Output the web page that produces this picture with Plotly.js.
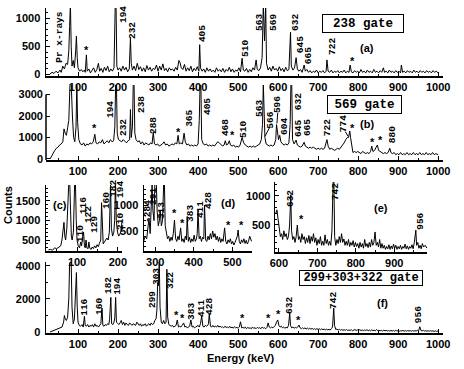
<!DOCTYPE html>
<html><head><meta charset="utf-8">
<script src="https://cdn.plot.ly/plotly-3.0.1.min.js"></script>
<style>html,body{margin:0;padding:0;background:#fff}#chart{width:464px;height:369px}</style>
</head><body><div id="chart"></div>
<script>
// ---- (a) 238 gate : [energy keV, counts]
const gate238 = [[30,10],[35,40],[40,20],[45,60],[50,30],[55,80],[58,40],[62,150],[66,100],[70,200],[74,180],[77,420],[79,850],[81,1250],[83,500],[85,150],[88,250],[91,120],[94,400],[96,680],[98,300],[100,120],[104,60],[108,90],[112,50],[116,80],[118,40],[121,350],[123,60],[127,100],[131,30],[135,70],[139,120],[143,40],[147,90],[151,200],[154,60],[158,110],[162,40],[166,130],[170,70],[174,150],[178,50],[182,100],[186,60],[190,120],[193,1250],[195,1250],[197,150],[200,80],[204,120],[208,60],[212,150],[216,80],[220,130],[224,50],[228,100],[231,650],[233,200],[236,80],[240,150],[244,70],[248,200],[252,90],[256,140],[260,60],[264,120],[268,50],[272,160],[276,80],[280,130],[284,60],[288,110],[292,90],[296,170],[300,60],[304,150],[308,80],[312,190],[316,70],[320,110],[324,50],[328,120],[332,80],[336,100],[340,60],[344,130],[348,80],[352,250],[355,210],[358,120],[362,90],[366,180],[370,60],[374,120],[378,70],[382,150],[386,50],[390,110],[394,70],[398,140],[402,60],[404,530],[406,120],[410,60],[414,100],[418,40],[422,120],[426,60],[430,100],[434,50],[438,80],[442,40],[446,120],[450,60],[454,90],[458,50],[462,110],[466,40],[470,90],[474,60],[478,130],[482,50],[486,100],[490,40],[494,80],[498,60],[502,120],[506,50],[510,290],[513,80],[517,60],[521,110],[525,40],[529,90],[533,50],[537,120],[541,80],[545,260],[548,90],[552,70],[556,120],[560,300],[563,1250],[566,600],[569,1250],[571,200],[575,80],[579,130],[583,60],[587,150],[591,80],[595,110],[599,60],[603,140],[607,70],[611,110],[615,50],[619,130],[623,70],[627,90],[631,750],[633,150],[637,80],[641,120],[645,300],[648,100],[652,60],[656,90],[660,40],[665,170],[668,60],[672,90],[676,40],[680,70],[684,30],[688,60],[692,40],[696,80],[700,30],[704,60],[708,40],[712,70],[716,30],[720,60],[722,260],[725,60],[729,40],[733,80],[737,30],[741,60],[745,40],[749,70],[753,30],[757,60],[761,40],[765,80],[769,30],[773,60],[777,40],[780,170],[783,50],[787,30],[791,70],[795,40],[799,60],[803,30],[807,90],[811,40],[815,60],[819,30],[823,80],[827,40],[831,60],[835,30],[839,90],[843,40],[847,60],[851,30],[855,70],[859,40],[863,120],[866,40],[870,60],[874,30],[878,80],[882,40],[886,60],[890,30],[894,70],[898,40],[902,60],[906,30],[908,170],[911,40],[915,60],[919,30],[923,70],[927,40],[931,60],[935,30],[939,80],[943,40],[947,60],[951,30],[955,70],[959,40],[963,60],[967,30],[971,70],[975,40],[979,60],[983,30],[987,70],[991,40],[995,60],[1000,30]];

// ---- (b) 569 gate
const gate569 = [[30,0],[34,150],[38,300],[42,400],[46,500],[50,550],[54,650],[58,700],[62,800],[65,1400],[68,1200],[71,1100],[74,1450],[77,1800],[80,3500],[83,3500],[86,2000],[89,1000],[92,800],[95,1500],[97,3500],[99,1700],[102,900],[106,700],[110,650],[114,750],[118,600],[122,700],[126,650],[130,750],[134,700],[138,800],[142,1150],[145,750],[149,700],[153,800],[157,750],[161,900],[165,700],[169,800],[173,850],[177,750],[181,900],[185,800],[189,850],[192,1500],[194,3500],[196,3500],[198,1200],[201,900],[205,850],[209,800],[213,900],[217,800],[221,750],[225,850],[229,900],[231,2300],[233,1000],[236,1500],[238,3500],[240,3500],[242,1200],[245,900],[249,800],[253,850],[257,700],[261,800],[265,650],[269,750],[273,700],[277,650],[281,750],[285,700],[288,1250],[291,700],[295,650],[299,700],[303,600],[307,650],[311,700],[315,800],[319,650],[323,700],[327,600],[331,650],[335,700],[339,650],[343,750],[347,700],[350,1100],[353,700],[357,750],[361,700],[365,1200],[368,800],[372,650],[376,700],[380,600],[384,650],[388,600],[392,650],[396,600],[400,700],[403,1800],[405,3500],[407,3500],[409,900],[413,700],[417,650],[421,700],[425,600],[429,650],[433,600],[437,650],[441,600],[445,700],[449,800],[453,750],[457,650],[461,600],[465,650],[468,850],[471,650],[475,700],[478,850],[481,650],[485,600],[489,650],[493,550],[497,600],[501,550],[505,650],[510,1000],[514,750],[518,650],[522,600],[526,550],[530,600],[534,550],[538,600],[542,550],[546,600],[550,650],[554,700],[558,900],[561,1600],[563,3500],[565,1200],[567,1000],[570,700],[574,650],[578,600],[582,650],[586,600],[590,650],[594,900],[596,1600],[598,1200],[601,900],[604,1100],[607,800],[611,700],[615,650],[619,700],[623,650],[627,750],[630,1600],[632,3500],[634,3500],[636,900],[640,700],[645,880],[648,650],[652,600],[656,550],[660,600],[665,780],[668,600],[672,550],[676,500],[680,550],[684,500],[688,550],[692,500],[696,450],[700,500],[704,450],[708,500],[712,450],[716,500],[719,700],[722,900],[725,600],[729,450],[733,500],[737,450],[741,400],[745,450],[749,500],[753,450],[757,550],[761,600],[765,750],[769,900],[773,1000],[776,1000],[779,1300],[781,1000],[784,500],[787,300],[791,350],[795,300],[799,350],[803,300],[807,250],[811,350],[815,300],[819,250],[823,300],[827,250],[831,350],[834,600],[837,350],[841,400],[845,550],[848,650],[851,400],[855,350],[859,300],[863,250],[867,300],[871,250],[875,300],[879,500],[882,300],[886,250],[890,300],[894,200],[898,250],[902,200],[906,300],[910,200],[914,250],[918,200],[922,300],[926,200],[930,250],[934,200],[938,300],[942,200],[946,250],[950,200],[954,300],[958,200],[962,250],[966,200],[970,300],[974,200],[978,250],[982,200],[986,300],[990,200],[994,250],[1000,200]];

// ---- (c) low-energy part of sum gate
const sumLow = [[30,250],[35,260],[40,240],[45,300],[50,280],[55,320],[60,350],[63,500],[66,700],[68,950],[70,600],[72,500],[75,800],[78,1900],[80,2000],[82,2000],[84,1000],[86,600],[88,500],[91,700],[94,1900],[96,2000],[98,1000],[100,500],[103,350],[106,300],[109,450],[111,350],[114,600],[116,700],[118,350],[120,300],[122,500],[124,300],[127,280],[129,450],[131,300],[134,260],[137,320],[140,280],[143,350],[146,300],[149,380],[152,330],[155,420],[158,500],[160,1450],[162,600],[164,400],[167,450],[170,500],[173,550],[176,500],[179,700],[182,1950],[184,800],[187,600],[190,700],[192,1000],[194,2000],[196,1000],[199,700],[202,600],[205,650],[208,750],[210,1000]];

// ---- (d) middle part
const sumMid = [[270,300],[274,400],[278,350],[281,550],[284,750],[287,450],[290,900],[292,1400],[294,900],[297,700],[299,1400],[301,1400],[303,1400],[305,900],[308,600],[311,700],[313,900],[316,600],[319,700],[322,1400],[324,1400],[326,600],[329,450],[332,350],[335,400],[338,300],[341,380],[344,320],[347,450],[350,710],[353,350],[356,300],[359,400],[362,330],[366,560],[369,300],[372,350],[375,280],[378,400],[381,330],[383,780],[386,300],[389,380],[392,280],[395,350],[398,300],[401,420],[404,300],[407,350],[409,450],[411,900],[414,350],[417,400],[420,300],[423,380],[426,350],[428,1000],[431,320],[434,300],[437,400],[440,330],[443,450],[446,350],[449,500],[452,380],[455,450],[458,330],[461,400],[464,300],[467,380],[470,280],[473,350],[476,300],[480,560],[483,300],[486,250],[489,330],[492,280],[495,350],[498,250],[501,300],[504,230],[507,280],[510,350],[513,400],[515,520],[518,300],[521,250],[524,330],[527,280],[530,350],[533,260],[536,320],[539,250],[542,300],[545,400],[548,350],[550,300]];

// ---- (e) high part
const sumHigh = [[592,700],[595,760],[598,600],[601,400],[604,300],[607,350],[610,250],[613,400],[616,300],[619,350],[622,250],[625,300],[628,500],[631,1020],[633,400],[636,250],[639,300],[642,200],[645,300],[648,500],[651,250],[654,300],[657,200],[660,350],[663,250],[666,300],[669,180],[672,280],[675,200],[678,320],[681,180],[684,300],[687,220],[690,350],[693,200],[696,280],[699,150],[702,250],[705,180],[708,300],[711,150],[714,220],[717,150],[720,330],[723,180],[726,250],[729,150],[732,220],[735,150],[738,400],[741,1250],[743,1250],[745,300],[748,150],[751,250],[754,180],[757,300],[760,200],[763,350],[766,200],[769,260],[772,150],[775,220],[778,150],[781,250],[784,130],[787,200],[790,150],[793,230],[796,120],[799,200],[802,130],[805,180],[808,100],[811,200],[814,120],[817,180],[820,100],[823,250],[826,130],[829,180],[832,110],[835,200],[838,120],[841,250],[844,150],[847,200],[850,380],[853,150],[856,200],[859,120],[862,250],[865,100],[868,180],[871,100],[874,150],[877,80],[880,130],[883,90],[886,160],[889,80],[892,140],[895,90],[898,170],[901,100],[904,150],[907,80],[910,130],[913,90],[916,150],[919,80],[922,130],[925,100],[928,170],[931,90],[934,140],[937,80],[940,130],[943,100],[946,160],[949,90],[952,200],[954,300],[956,410],[958,150],[961,200],[964,100],[967,150],[970,90],[973,180],[976,120],[980,150],[985,100]];

// ---- (f) 299+303+322 gate, full range
const gateSum = [[30,0],[35,50],[40,100],[45,150],[50,200],[55,250],[60,300],[64,600],[66,1000],[68,800],[71,700],[74,900],[77,2000],[79,4200],[81,4200],[83,4200],[85,1500],[88,500],[91,800],[94,2500],[96,3600],[98,1500],[100,600],[103,400],[106,350],[110,450],[113,300],[116,950],[118,400],[121,350],[124,450],[127,300],[130,400],[133,350],[136,450],[139,300],[142,500],[145,350],[148,400],[151,300],[154,450],[157,500],[160,1450],[162,400],[165,350],[168,450],[171,400],[174,500],[177,450],[179,800],[182,2100],[184,500],[187,450],[190,600],[192,900],[194,2100],[196,600],[199,500],[202,450],[205,550],[208,700],[211,450],[214,600],[217,400],[220,550],[223,450],[226,400],[229,550],[232,450],[235,400],[238,500],[241,450],[244,400],[247,600],[250,450],[253,400],[256,500],[259,350],[262,450],[265,400],[268,500],[271,350],[274,450],[277,500],[280,400],[283,550],[286,450],[289,500],[292,700],[295,800],[297,1300],[299,3000],[301,2800],[303,4300],[305,1500],[308,600],[311,500],[314,700],[317,500],[320,600],[322,3800],[324,900],[327,450],[330,400],[333,350],[336,400],[339,300],[342,350],[345,400],[348,730],[351,300],[354,350],[357,300],[360,400],[364,550],[367,300],[370,350],[373,250],[376,300],[379,350],[382,730],[385,300],[388,350],[391,250],[394,300],[397,350],[400,400],[403,300],[406,500],[409,970],[412,350],[415,300],[418,400],[421,350],[424,400],[426,500],[428,1100],[431,350],[434,300],[437,400],[440,300],[443,350],[446,300],[449,400],[452,300],[455,350],[458,280],[461,320],[464,250],[467,350],[470,280],[473,300],[476,250],[479,350],[482,250],[485,300],[488,230],[491,320],[494,250],[497,280],[500,230],[503,300],[506,620],[509,250],[512,280],[515,230],[518,300],[521,200],[524,280],[527,230],[530,250],[533,200],[536,300],[539,220],[542,260],[545,200],[548,280],[551,230],[554,260],[557,200],[560,300],[563,230],[566,260],[569,200],[572,280],[575,550],[578,300],[581,250],[584,300],[587,250],[590,350],[593,400],[596,600],[599,730],[602,400],[605,300],[608,350],[611,250],[614,300],[617,230],[620,280],[623,250],[626,400],[629,1150],[631,400],[634,250],[637,300],[640,230],[643,280],[646,250],[649,300],[652,420],[655,250],[658,200],[661,260],[664,200],[667,250],[670,180],[673,240],[676,180],[679,230],[682,170],[685,220],[688,160],[691,200],[694,150],[697,210],[700,150],[703,200],[706,140],[709,190],[712,140],[715,180],[718,130],[721,170],[724,130],[727,160],[730,120],[733,200],[736,300],[739,1450],[741,400],[744,150],[747,180],[750,120],[753,160],[756,110],[759,150],[762,100],[765,140],[768,100],[771,150],[774,90],[777,130],[780,90],[783,140],[786,80],[789,120],[792,150],[795,90],[798,130],[801,80],[804,140],[807,90],[810,120],[813,80],[816,130],[819,90],[822,140],[825,80],[828,120],[831,70],[834,130],[837,80],[840,110],[843,70],[846,150],[849,80],[852,110],[855,70],[858,100],[861,60],[864,110],[867,70],[870,100],[873,60],[876,90],[879,50],[882,100],[885,60],[888,90],[891,50],[894,100],[897,60],[900,90],[903,50],[906,80],[909,60],[912,100],[915,50],[918,80],[921,50],[924,90],[927,60],[930,80],[933,50],[936,90],[939,50],[942,80],[945,60],[948,100],[951,70],[954,320],[957,90],[960,70],[963,100],[966,60],[969,80],[972,50],[975,70],[978,50],[981,80],[984,50],[987,70],[990,40],[993,70],[996,40],[1000,60]];

// ---- peak labels: [energy, counts, text] in each panel's own axes
const labelsA = [[52,666,'Pr x-rays'],[212,1070,'194'],[235,772,'232'],[410,719,'405'],[517,471,'510'],[552,932,'563'],[587,932,'569'],[642,932,'632'],[655,524,'645'],[675,329,'665'],[737,507,'722']];
const starsA = [[122,436],[787,241]];
const labelsB = [[180,2279,'194'],[215,1442,'232'],[260,2512,'238'],[290,1535,'288'],[377,1907,'365'],[425,2419,'405'],[470,1442,'468'],[512,1395,'510'],[552,2372,'563'],[579,1814,'566'],[600,2512,'596'],[617,1535,'604'],[650,2651,'632'],[652,1442,'645'],[675,1442,'665'],[725,1442,'722'],[765,1628,'774'],[885,1116,'880']];
const starsB = [[142,1442],[350,1256],[485,1116],[787,1442],[837,790],[855,883]];
// leader lines in panel (b): [labelE, labelC, peakE, peakC]
const leadersB = [[578,1440,567,1050],[599,2150,597,1650],[768,1270,775,1050]];
const labelsC = [[110,653,'110'],[115,1365,'116'],[127,1136,'122'],[144,882,'129'],[171,1492,'160'],[188,1798,'182'],[205,1798,'194'],[205,983,'210']];
const labelsD = [[281,885,'-284'],[294,1173,'291'],[318,885,'313'],[390,846,'383'],[419,904,'411'],[437,1077,'428']];
const starsD = [[351,846],[370,654],[489,615],[525,615]];
const labelsE = [[629,947,'632'],[749,1068,'742'],[969,569,'956']];
const starsE = [[660,603]];
const ticksE = [500, 1000];
const labelsF = [[117,1515,'116'],[155,1515,'160'],[175,2786,'182'],[197,2786,'194'],[285,1938,'299'],[295,3331,'303'],[330,3089,'322'],[382,1272,'383'],[407,1454,'411'],[427,1575,'428'],[627,1636,'632'],[737,1938,'742'],[950,1030,'956']];
const starsF = [[347,1030],[362,848],[510,848],[575,848],[600,1091],[652,727]];

const panels = [
  {data: gate238, ax: ''},
  {data: gate569, ax: '2'},
  {data: sumLow, ax: '3'},
  {data: sumMid, ax: '4'},
  {data: sumHigh, ax: '5'},
  {data: gateSum, ax: '6'}
];
const traces = panels.map(p => ({
  type: 'scatter', mode: 'lines',
  x: p.data.map(d => d[0]), y: p.data.map(d => d[1]),
  xaxis: 'x' + p.ax, yaxis: 'y' + p.ax,
  line: {color: '#000', width: 1}, hoverinfo: 'skip', showlegend: false
}));

const W = 464, H = 369;
const px = (a, b) => [a / W, b / W];
const py = (top, bot) => [1 - bot / H, 1 - top / H];
const tf = {family: 'Liberation Sans, Arial, sans-serif', size: 11, color: '#000', weight: 'bold'};
const minorY = d => ({dtick: d, ticks: 'inside', ticklen: 2, tickcolor: '#000', showgrid: false});
function xa(dom, range, dtick, extra) {
  return Object.assign({domain: dom, range: range, dtick: dtick, tick0: 0, showline: true, linecolor: '#000', linewidth: 1.5,
    ticks: 'inside', ticklen: 4, tickwidth: 1, tickcolor: '#000', showgrid: false, zeroline: false,
    tickfont: tf, minor: {dtick: dtick / 2, ticks: 'inside', ticklen: 2, tickcolor: '#000', showgrid: false}}, extra || {});
}
function ya(dom, range, vals, anchor, extra) {
  return Object.assign({domain: dom, range: range, tickmode: 'array', tickvals: vals, ticktext: vals.map(String),
    showticklabels: true, side: 'left', showline: true, linecolor: '#000', linewidth: 1.5,
    ticks: 'inside', ticklen: 4, tickwidth: 1, tickcolor: '#000', showgrid: false, zeroline: false, anchor: anchor,
    tickfont: tf, ticklabelstandoff: 2}, extra || {});
}

const domE = {x: [275, 427], y: [182, 252]};
const rangeE = [35, 1240];
const layout = {
  width: W, height: H, margin: {l: 0, r: 0, t: 0, b: 0},
  paper_bgcolor: '#fff', plot_bgcolor: 'rgba(0,0,0,0)', showlegend: false,
  xaxis:  xa(px(46, 443), [20, 1012], 100, {anchor: 'y'}),
  yaxis:  ya(py(8, 76), [-25, 1180], [0, 500, 1000], 'x', {minor: minorY(100)}),
  xaxis2: xa(px(46, 443), [20, 1012], 100, {anchor: 'y2'}),
  yaxis2: ya(py(85, 160), [-47, 3442], [0, 1000, 2000, 3000], 'x2', {showline: false}),
  xaxis3: xa(px(46, 122), [24, 210], 100, {anchor: 'y3'}),
  yaxis3: ya(py(185, 251), [220, 1900], [500, 1000, 1500], 'x3', {minor: minorY(100)}),
  xaxis4: xa(px(144, 252), [271, 551], 100, {anchor: 'y4'}),
  yaxis4: ya(py(185, 251), [115, 1385], [500, 1000], 'x4', {minor: minorY(100)}),
  xaxis5: xa(px(domE.x[0], domE.x[1]), [590, 985], 100, {anchor: 'y5'}),
  yaxis5: ya(py(domE.y[0], domE.y[1]), rangeE, ticksE, 'x5', {minor: minorY(100), showticklabels: false}),
  xaxis6: xa(px(46, 443), [20, 1012], 100, {anchor: 'y6'}),
  yaxis6: ya(py(262, 333), [-60, 4240], [0, 2000, 4000], 'x6', {minor: minorY(1000)}),
  shapes: [
    {type: 'line', xref: 'x2 domain', yref: 'y2', x0: 0, x1: 0, y0: -47, y1: 3000, line: {color: '#000', width: 1.5}}
  ],
  annotations: []
};
leadersB.forEach(l => layout.shapes.push({type: 'line', xref: 'x2', yref: 'y2', x0: l[0], y0: l[1], x1: l[2], y1: l[3], line: {color: '#000', width: 1}}));

const lf = {family: 'Liberation Mono, Courier New, monospace', size: 9.5, color: '#000', weight: 'bold'};
const sf = {family: 'Liberation Sans, Arial, sans-serif', size: 11, color: '#000', weight: 'bold'};
function addLabels(list, ax) {
  list.forEach(l => layout.annotations.push({x: l[0], y: l[1], text: l[2], xref: 'x' + ax, yref: 'y' + ax,
    showarrow: false, textangle: -90, font: lf, xanchor: 'center', yanchor: 'middle'}));
}
function addStars(list, ax) {
  list.forEach(s => layout.annotations.push({x: s[0], y: s[1], text: '*', xref: 'x' + ax, yref: 'y' + ax,
    showarrow: false, font: sf, xanchor: 'center', yanchor: 'middle'}));
}
addLabels(labelsA, ''); addStars(starsA, '');
addLabels(labelsB, '2'); addStars(starsB, '2');
addLabels(labelsC, '3');
addLabels(labelsD, '4'); addStars(starsD, '4');
addLabels(labelsE, '5'); addStars(starsE, '5');
addLabels(labelsF, '6'); addStars(starsF, '6');

// y tick labels of panel (e), placed in paper space at the level of each tick value
ticksE.forEach(v => {
  const pyv = domE.y[1] - (v - rangeE[0]) / (rangeE[1] - rangeE[0]) * (domE.y[1] - domE.y[0]);
  layout.annotations.push({x: (domE.x[0] - 3) / W, y: 1 - pyv / H, xref: 'paper', yref: 'paper', text: String(v), showarrow: false,
    font: {family: 'Liberation Sans, Arial, sans-serif', size: 11, color: '#000', weight: 'bold'}, xanchor: 'right', yanchor: 'middle'});
});

// gate boxes
const mf = {family: 'Liberation Mono, Courier New, monospace', size: 12.5, color: '#000', weight: 'bold'};
layout.annotations.push({x: 812, y: 914, xref: 'x', yref: 'y', text: '238 gate', showarrow: false, font: mf,
  bordercolor: '#000', borderwidth: 1, borderpad: 0, bgcolor: '#fff', width: 80, height: 17});
layout.annotations.push({x: 816, y: 2535, xref: 'x2', yref: 'y2', text: '569 gate', showarrow: false, font: mf,
  bordercolor: '#000', borderwidth: 1, borderpad: 0, bgcolor: '#fff', width: 73, height: 17});
layout.annotations.push({x: 807, y: 3270, xref: 'x6', yref: 'y6', text: '299+303+322 gate', showarrow: false, font: Object.assign({}, mf, {size: 12}),
  bordercolor: '#000', borderwidth: 1, borderpad: 0, bgcolor: '#fff', width: 122, height: 14});

// panel letters
[['(a)', 822, 471, ''], ['(b)', 822, 1628, '2'], ['(c)', 58, 1391, '3'], ['(d)', 489, 1039, '4'], ['(e)', 866, 792, '5'], ['(f)', 860, 1757, '6']].forEach(p =>
  layout.annotations.push({x: p[1], y: p[2], xref: 'x' + p[3], yref: 'y' + p[3], text: p[0], showarrow: false, font: sf}));

// axis titles
layout.annotations.push({x: 8 / W, y: 1 - 205 / H, xref: 'paper', yref: 'paper', text: 'Counts', textangle: -90, showarrow: false, font: sf, xanchor: 'center', yanchor: 'middle'});
layout.annotations.push({x: 241 / W, y: 1 - 358 / H, xref: 'paper', yref: 'paper', text: 'Energy (keV)', showarrow: false, font: sf, xanchor: 'center', yanchor: 'middle'});

Plotly.newPlot('chart', traces, layout, {staticPlot: true, displayModeBar: false});
</script>
</body></html>
